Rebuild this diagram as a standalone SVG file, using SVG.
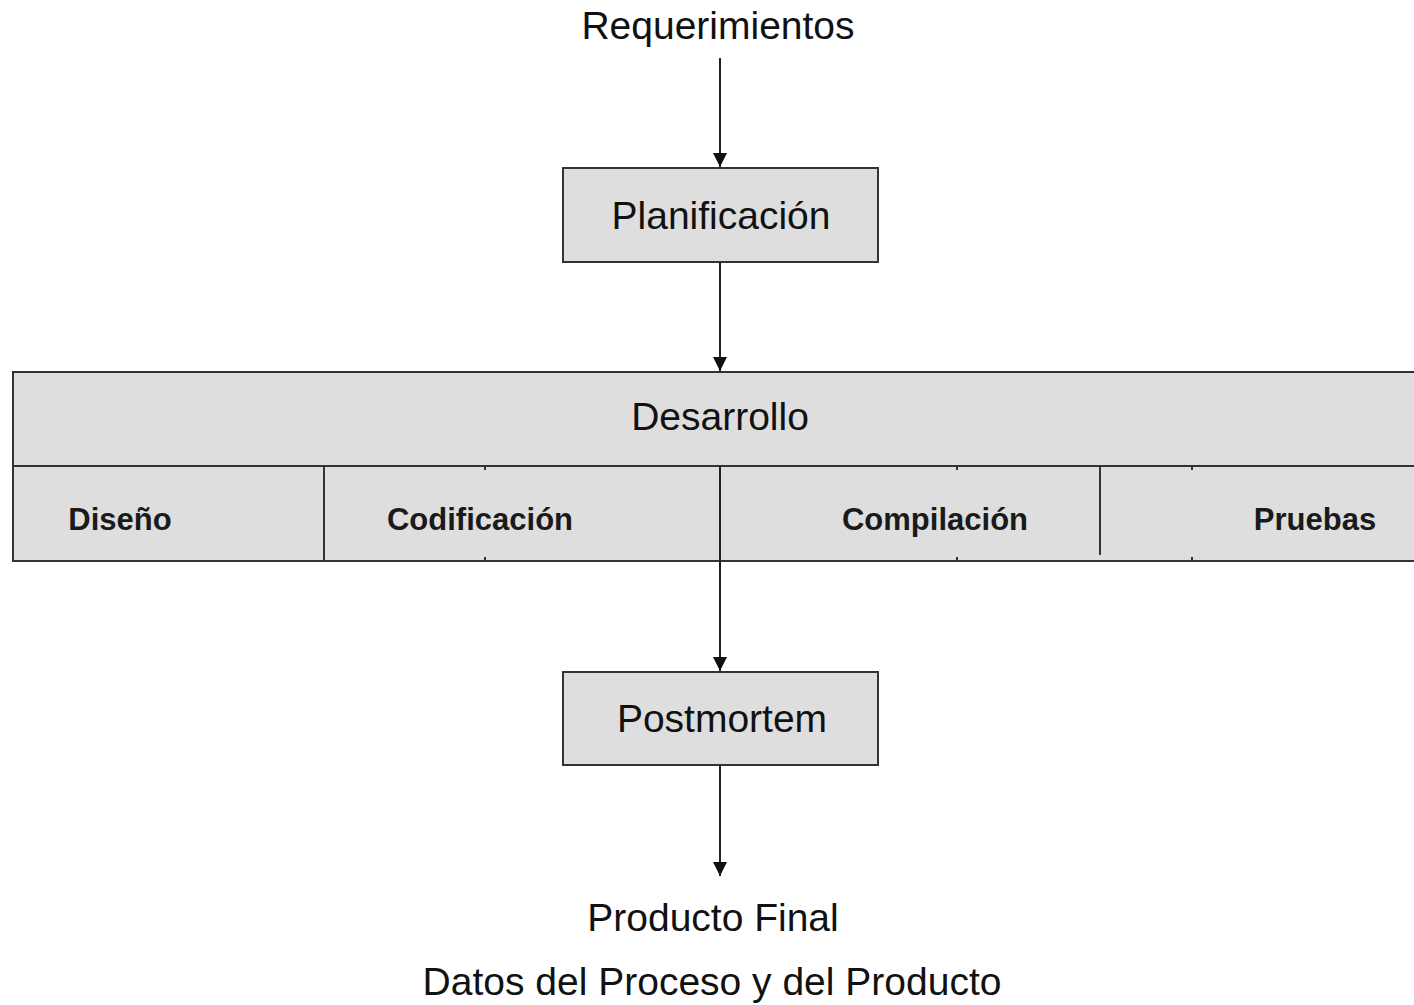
<svg xmlns="http://www.w3.org/2000/svg" width="1414" height="1005" viewBox="0 0 1414 1005">
<defs>
<marker id="arr" markerWidth="14" markerHeight="14" refX="14" refY="7" orient="auto" markerUnits="userSpaceOnUse" viewBox="0 0 14 14">
<path d="M0,0 L14,7 L0,14 Z" fill="#111"/>
</marker>
<style>
.box{fill:#dedede;stroke:#333;stroke-width:2}
.t{font-family:"Liberation Sans",Arial,sans-serif;fill:#111;text-anchor:middle}
.big{font-size:39px}
.sub{font-size:31px;font-weight:bold;fill:#1a1a1a}
.ln{stroke:#222;stroke-width:2;fill:none}
.tick{stroke:#333;stroke-width:2}
</style>
</defs>
<rect width="1414" height="1005" fill="#fff"/>
<g id="requerimientos"><text class="t big" x="718" y="39">Requerimientos</text></g>
<g id="planificacion">
<rect class="box" x="563" y="168" width="315" height="94"/>
<text class="t big" x="721" y="229">Planificación</text>
</g>
<g id="desarrollo">
<rect class="box" x="13" y="372" width="1410" height="189"/>
<line class="tick" x1="13" y1="466" x2="1414" y2="466"/>
<text class="t big" x="720" y="430">Desarrollo</text>
<line class="tick" x1="324" y1="466" x2="324" y2="561"/>
<line class="tick" x1="1100" y1="466" x2="1100" y2="555"/>
<g class="tick">
<line x1="485" y1="466" x2="485" y2="470"/><line x1="485" y1="557" x2="485" y2="561"/>
<line x1="957" y1="466" x2="957" y2="470"/><line x1="957" y1="557" x2="957" y2="561"/>
<line x1="1192" y1="466" x2="1192" y2="470"/><line x1="1192" y1="557" x2="1192" y2="561"/>
</g>
</g>
<g id="diseno"><text class="t sub" x="120" y="530">Diseño</text></g>
<g id="codificacion"><text class="t sub" x="480" y="530">Codificación</text></g>
<g id="compilacion"><text class="t sub" x="935" y="530">Compilación</text></g>
<g id="pruebas"><text class="t sub" x="1315" y="530">Pruebas</text></g>
<g id="postmortem">
<rect class="box" x="563" y="672" width="315" height="93"/>
<text class="t big" x="722" y="732">Postmortem</text>
</g>
<g id="salida">
<text class="t big" x="713" y="931">Producto Final</text>
<text class="t big" x="712" y="995">Datos del Proceso y del Producto</text>
</g>
<g id="connectors">
<line class="ln" x1="720" y1="58" x2="720" y2="167" marker-end="url(#arr)"/>
<line class="ln" x1="720" y1="262" x2="720" y2="371" marker-end="url(#arr)"/>
<line class="ln" x1="720" y1="466" x2="720" y2="671" marker-end="url(#arr)"/>
<line class="ln" x1="720" y1="765" x2="720" y2="876" marker-end="url(#arr)"/>
</g>
</svg>
